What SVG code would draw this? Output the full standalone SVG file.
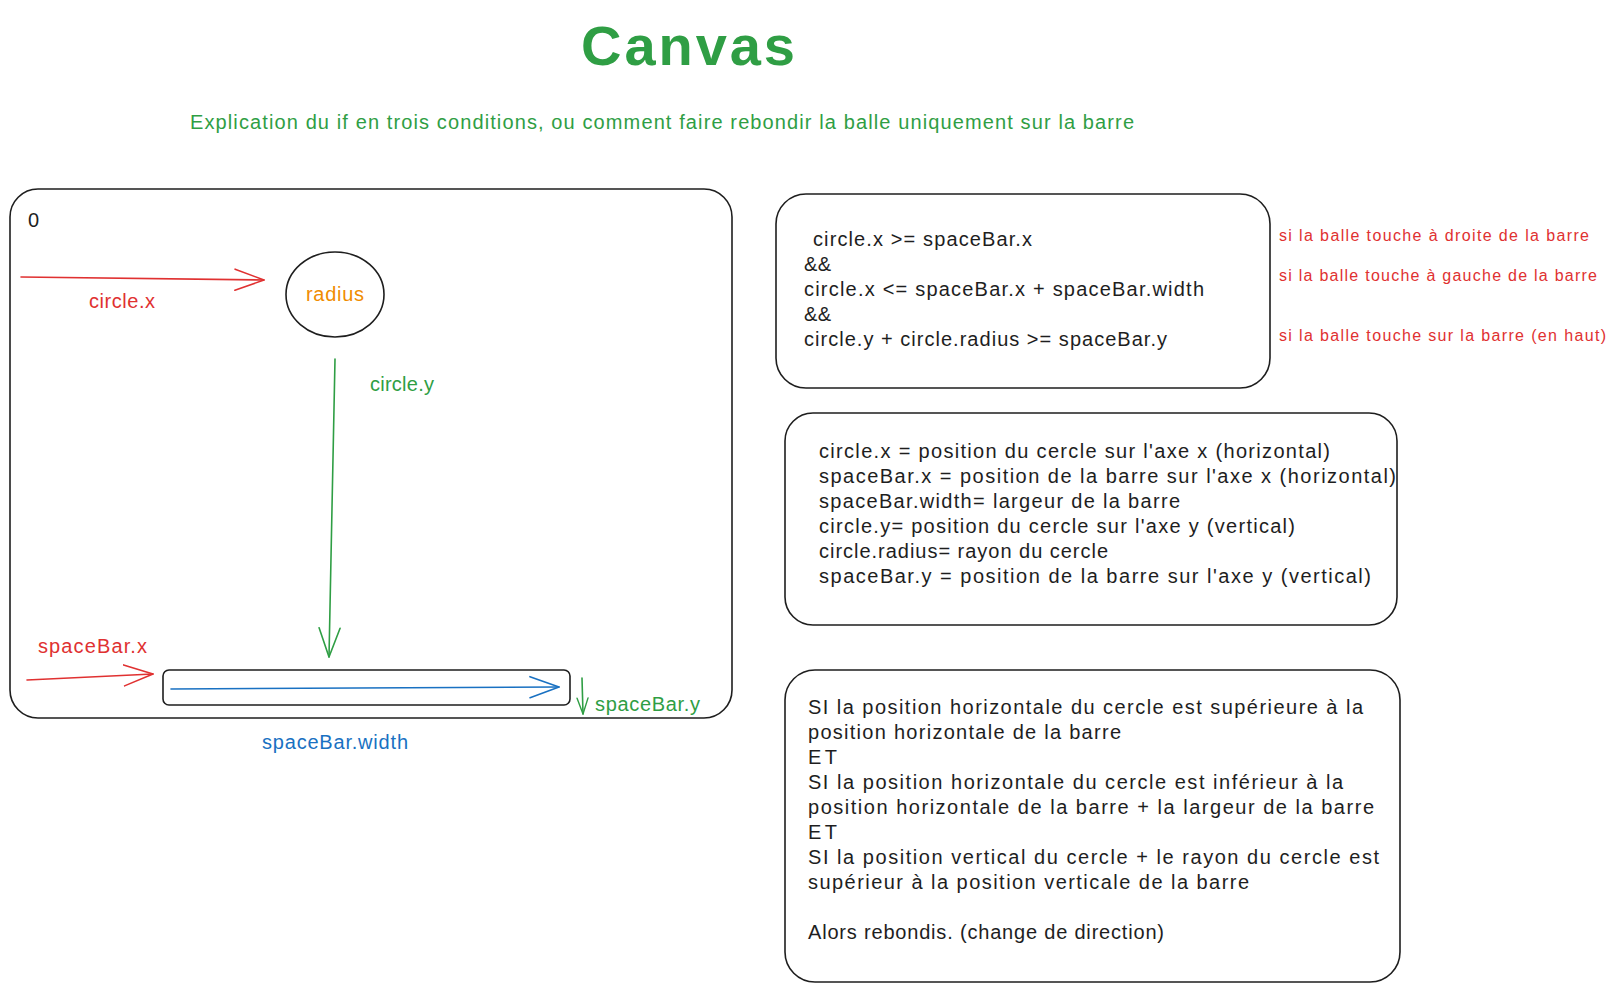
<svg xmlns="http://www.w3.org/2000/svg" width="1612" height="992" viewBox="0 0 1612 992">
<style>
text{font-family:"Liberation Sans",Arial,sans-serif;}
.t20{font-size:20px;fill:#1e1e1e;}
.t16{font-size:16px;fill:#e03131;}
.green{fill:#2f9e44;}
.red{fill:#e03131;}
.blue{fill:#1971c2;}
.orange{fill:#f08c00;}
.box{fill:none;stroke:#1e1e1e;stroke-width:1.6;}
.ln{fill:none;stroke-width:1.6;stroke-linecap:round;}
</style>
<defs>
<marker id="ahRed" viewBox="0 0 32 24" refX="30" refY="12" markerWidth="32" markerHeight="24" markerUnits="userSpaceOnUse" orient="auto"><path d="M1,1.5 L30,12 L1,22.5" fill="none" stroke="#e03131" stroke-width="1.6" stroke-linecap="round" stroke-linejoin="round"/></marker>
<marker id="ahGreen" viewBox="0 0 32 24" refX="30" refY="12" markerWidth="32" markerHeight="24" markerUnits="userSpaceOnUse" orient="auto"><path d="M1,1.5 L30,12 L1,22.5" fill="none" stroke="#2f9e44" stroke-width="1.6" stroke-linecap="round" stroke-linejoin="round"/></marker>
<marker id="ahBlue" viewBox="0 0 32 24" refX="30" refY="12" markerWidth="32" markerHeight="24" markerUnits="userSpaceOnUse" orient="auto"><path d="M1,1.5 L30,12 L1,22.5" fill="none" stroke="#1971c2" stroke-width="1.6" stroke-linecap="round" stroke-linejoin="round"/></marker>
<marker id="ahGreenS" viewBox="0 0 18 14" refX="17" refY="7" markerWidth="18" markerHeight="14" markerUnits="userSpaceOnUse" orient="auto"><path d="M1,1.5 L17,7 L1,12.5" fill="none" stroke="#2f9e44" stroke-width="1.4" stroke-linecap="round" stroke-linejoin="round"/></marker>
</defs>
<rect width="1612" height="992" fill="#ffffff"/>

<g id="title">
<text x="688" y="65" text-anchor="middle" font-size="56" font-weight="bold" class="green" textLength="214">Canvas</text>
</g>
<g id="subtitle">
<text x="190" y="129" font-size="20" class="green" textLength="944">Explication du if en trois conditions, ou comment faire rebondir la balle uniquement sur la barre</text>
</g>

<g id="canvas-box">
<rect class="box" x="10" y="189" width="722" height="529" rx="28"/>
<text x="28" y="227" class="t20">0</text>
</g>

<g id="ball">
<ellipse class="box" cx="335" cy="294.5" rx="49" ry="42.5"/>
<text x="335" y="301" text-anchor="middle" font-size="20" class="orange" textLength="58">radius</text>
</g>

<g id="spacebar">
<rect class="box" x="163" y="670" width="407" height="35" rx="6"/>
</g>

<g id="connectors">
<path class="ln" stroke="#e03131" d="M21,277 L264,280" marker-end="url(#ahRed)"/>
<path class="ln" stroke="#2f9e44" d="M335,359 L329,657" marker-end="url(#ahGreen)"/>
<path class="ln" stroke="#e03131" d="M27,680 L153,674" marker-end="url(#ahRed)"/>
<path class="ln" stroke="#1971c2" d="M171,689 L559,687" marker-end="url(#ahBlue)"/>
<path class="ln" stroke="#2f9e44" d="M582,678 L583,714" marker-end="url(#ahGreenS)"/>
</g>

<g id="labels">
<text x="89" y="308" font-size="20" class="red" textLength="66">circle.x</text>
<text x="370" y="391" font-size="20" class="green" textLength="64">circle.y</text>
<text x="38" y="653" font-size="20" class="red" textLength="109">spaceBar.x</text>
<text x="595" y="711" font-size="20" class="green" textLength="105">spaceBar.y</text>
<text x="262" y="749" font-size="20" class="blue" textLength="146">spaceBar.width</text>
</g>

<g id="condition-box">
<rect class="box" x="776" y="194" width="494" height="194" rx="30"/>
<text x="813" y="246" class="t20" textLength="219">circle.x &gt;= spaceBar.x</text>
<text x="804" y="271" class="t20" textLength="27">&amp;&amp;</text>
<text x="804" y="296" class="t20" textLength="400">circle.x &lt;= spaceBar.x + spaceBar.width</text>
<text x="804" y="321" class="t20" textLength="27">&amp;&amp;</text>
<text x="804" y="346" class="t20" textLength="363">circle.y + circle.radius &gt;= spaceBar.y</text>
</g>

<g id="condition-notes">
<text x="1279" y="241" class="t16" textLength="310">si la balle touche à droite de la barre</text>
<text x="1279" y="281" class="t16" textLength="318">si la balle touche à gauche de la barre</text>
<text x="1279" y="341" class="t16" textLength="327">si la balle touche sur la barre (en haut)</text>
</g>

<g id="definitions-box">
<rect class="box" x="785" y="413" width="612" height="212" rx="28"/>
<text x="819" y="458" class="t20" textLength="511">circle.x = position du cercle sur l'axe x (horizontal)</text>
<text x="819" y="483" class="t20" textLength="577">spaceBar.x = position de la barre sur l'axe x (horizontal)</text>
<text x="819" y="508" class="t20" textLength="361">spaceBar.width= largeur de la barre</text>
<text x="819" y="533" class="t20" textLength="476">circle.y= position du cercle sur l'axe y (vertical)</text>
<text x="819" y="558" class="t20" textLength="289">circle.radius= rayon du cercle</text>
<text x="819" y="583" class="t20" textLength="552">spaceBar.y = position de la barre sur l'axe y (vertical)</text>
</g>

<g id="explanation-box">
<rect class="box" x="785" y="670" width="615" height="312" rx="30"/>
<text x="808" y="714" class="t20" textLength="555">SI la position horizontale du cercle est supérieure à la</text>
<text x="808" y="739" class="t20" textLength="313">position horizontale de la barre</text>
<text x="808" y="764" class="t20" textLength="29">ET</text>
<text x="808" y="789" class="t20" textLength="535">SI la position horizontale du cercle est inférieur à la</text>
<text x="808" y="814" class="t20" textLength="566">position horizontale de la barre + la largeur de la barre</text>
<text x="808" y="839" class="t20" textLength="29">ET</text>
<text x="808" y="864" class="t20" textLength="571">SI la position vertical du cercle + le rayon du cercle est</text>
<text x="808" y="889" class="t20" textLength="441">supérieur à la position verticale de la barre</text>
<text x="808" y="939" class="t20" textLength="356">Alors rebondis. (change de direction)</text>
</g>
</svg>
